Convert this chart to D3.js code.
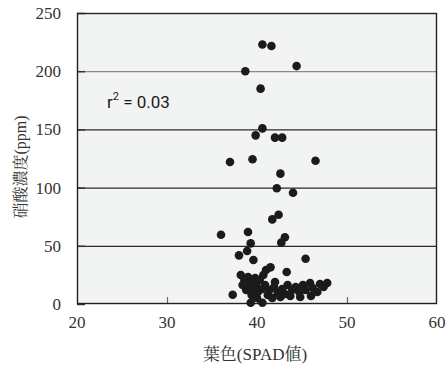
<!DOCTYPE html>
<html>
<head>
<meta charset="utf-8">
<script src="https://cdn.jsdelivr.net/npm/d3@7"></script>
<style>
  body { margin: 0; background: #fff; }
</style>
</head>
<body>
<div id="chart"></div>
<script>
// SPAD value (x) and nitrate concentration in ppm (y)
const spad = [
  40.6, 41.6, 44.4, 38.7, 40.4, 40.6, 39.85, 42.0, 42.8, 37.0, 39.5, 46.5, 42.6,
  42.2, 44.0, 42.4, 41.7, 36.0, 39.0, 43.1, 42.7, 39.3, 38.9, 38.0, 39.6, 45.4,
  41.5, 41.0, 43.3, 37.3, 39.3, 40.6,
  38.2, 38.6, 39.0, 38.4, 39.2, 38.8, 39.4, 39.9, 39.4, 40.1, 39.8, 40.3, 40.6,
  40.0, 40.7, 40.9, 41.4, 41.2, 41.9, 42.3, 42.0, 42.8, 43.1, 43.4, 43.9, 43.7,
  44.3, 44.7, 41.7, 42.6, 45.1, 45.4, 45.9, 46.2, 46.7, 47.0, 47.4, 47.8, 46.0,
  44.8, 42.9
];
const nitrate = [
  223, 221.6, 204.4, 199.9, 185, 150.9, 144.9, 142.9, 142.9, 122, 124.3, 123.1, 112,
  99.4, 95.6, 76.7, 72.7, 59.5, 61.8, 57.3, 52.7, 52.1, 45.5, 41.8, 37.8, 38.9,
  31.5, 29.2, 27.5, 8, 1.1, 1.1,
  24.9, 20.6, 23.2, 16.3, 18.0, 12.0, 13.7, 16.3, 7.7, 10.3, 22.3, 20.6, 12.9,
  5.2, 24.9, 16.3, 12.0, 7.7, 14.6, 9.4, 18.9, 12.9, 8.6, 16.3, 12.0, 6.9,
  14.6, 10.3, 5.2, 6.0, 16.3, 12.0, 18.0, 13.7, 10.3, 17.2, 14.6, 18.0, 6.9,
  6.0, 8.6
];
const xTicks = [20, 30, 40, 50, 60];
const yTicks = [0, 50, 100, 150, 200, 250];
const xTitle = "葉色(SPAD値)";
const yTitle = "硝酸濃度(ppm)";
const r2Value = "0.03";

const serif = "'Liberation Serif', 'Noto Serif CJK JP', 'DejaVu Serif', serif";

const data = spad.map((s, i) => ({ spad: s, nitrate: nitrate[i] }));

const width = 446, height = 365;
const margin = { top: 13, right: 9, bottom: 61, left: 77 };
const innerW = width - margin.left - margin.right;
const innerH = height - margin.top - margin.bottom;

const x = d3.scaleLinear().domain([20, 60]).range([0, innerW]);
const y = d3.scaleLinear().domain([0, 250]).range([innerH, 0]);

const svg = d3.select("#chart").append("svg")
  .attr("width", width)
  .attr("height", height);

const g = svg.append("g")
  .attr("transform", `translate(${margin.left},${margin.top})`);

// plot background
g.append("rect")
  .attr("width", innerW)
  .attr("height", innerH)
  .attr("fill", "#f2f3f3");

// horizontal grid lines
g.append("g")
  .selectAll("line")
  .data(yTicks.filter((d) => d > 0 && d < 250))
  .join("line")
  .attr("x1", 0)
  .attr("x2", innerW)
  .attr("y1", (d) => y(d) + 0.5)
  .attr("y2", (d) => y(d) + 0.5)
  .attr("stroke", (d) => (d === 200 ? "#8a8a8a" : "#2a2a2a"))
  .attr("stroke-width", 1.3);

// left axis: inward ticks
g.append("g")
  .call(d3.axisRight(y).tickValues(yTicks).tickSize(8).tickFormat(""))
  .call((a) => a.select(".domain").remove())
  .call((a) => a.selectAll(".tick line").attr("stroke", "#333").attr("stroke-width", 1.5));

g.append("g")
  .selectAll("text")
  .data(yTicks)
  .join("text")
  .attr("font-family", serif)
  .attr("font-size", 17)
  .attr("fill", "#333")
  .attr("x", -16)
  .attr("y", (d) => y(d) + 6)
  .attr("text-anchor", "end")
  .text((d) => d);

// bottom axis: inward ticks
g.append("g")
  .attr("transform", `translate(0,${innerH})`)
  .call(d3.axisTop(x).tickValues(xTicks.slice(1, -1)).tickSize(7).tickFormat(""))
  .call((a) => a.select(".domain").remove())
  .call((a) => a.selectAll(".tick line").attr("stroke", "#666").attr("stroke-width", 1.2));

g.append("g")
  .selectAll("text")
  .data(xTicks)
  .join("text")
  .attr("font-family", serif)
  .attr("font-size", 17)
  .attr("fill", "#333")
  .attr("x", (d) => x(d))
  .attr("y", innerH + 24)
  .attr("text-anchor", "middle")
  .text((d) => d);

// frame
g.append("rect")
  .attr("x", 0.5)
  .attr("y", 0.5)
  .attr("width", innerW - 1)
  .attr("height", innerH - 1)
  .attr("fill", "none")
  .attr("stroke", "#222")
  .attr("stroke-width", 1.4);

// points
g.append("g")
  .selectAll("circle")
  .data(data)
  .join("circle")
  .attr("cx", (d) => x(d.spad))
  .attr("cy", (d) => y(d.nitrate))
  .attr("r", 4.3)
  .attr("fill", "#1c1a1b");

// r^2 annotation
const r2 = g.append("text")
  .attr("x", 30)
  .attr("y", 95)
  .attr("font-family", "Roboto, 'Noto Sans', sans-serif")
  .attr("font-size", 17)
  .attr("fill", "#1a1a1a");
r2.append("tspan").text("r");
r2.append("tspan").attr("dy", -8).attr("font-size", 11).text("2");
r2.append("tspan").attr("dy", 8).text(" = " + r2Value);

// axis titles
svg.append("text")
  .attr("font-family", serif)
  .attr("font-size", 17)
  .attr("fill", "#333")
  .attr("x", margin.left + innerW / 2 - 2)
  .attr("y", 360)
  .attr("text-anchor", "middle")
  .text(xTitle);

svg.append("text")
  .attr("font-family", serif)
  .attr("font-size", 16)
  .attr("fill", "#333")
  .attr("transform", `translate(26,167) rotate(-90)`)
  .attr("text-anchor", "middle")
  .text(yTitle);
</script>
</body>
</html>
